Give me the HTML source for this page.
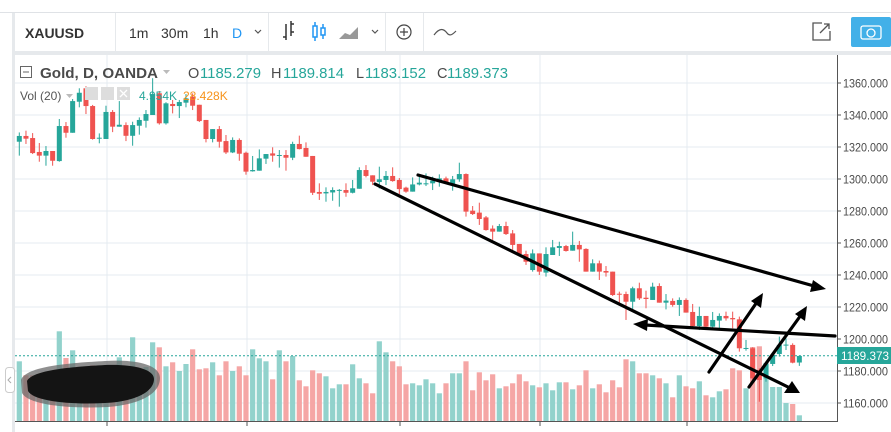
<!DOCTYPE html>
<html><head><meta charset="utf-8">
<style>
html,body{margin:0;padding:0;background:#fff;}
body{width:891px;height:432px;overflow:hidden;position:relative;font-family:"Liberation Sans",sans-serif;}
svg{position:absolute;left:0;top:0;}
text{font-family:"Liberation Sans",sans-serif;}
</style></head>
<body>
<svg id="chart" width="891" height="432" viewBox="0 0 891 432">
  <rect x="0" y="0" width="891" height="432" fill="#ffffff"/>
  <line x1="0" y1="12.5" x2="891" y2="12.5" stroke="#dfe2e6" stroke-width="1"/>
  <rect x="12" y="13" width="879" height="42" fill="#e6e9ec"/>
  <rect x="15" y="13" width="100" height="38" fill="#fff"/>
  <rect x="116" y="13" width="152" height="38" fill="#fff"/>
  <rect x="269" y="13" width="116" height="38" fill="#fff"/>
  <rect x="386" y="13" width="37" height="38" fill="#fff"/>
  <rect x="424" y="13" width="467" height="38" fill="#fff"/>
  <rect x="12" y="55" width="3" height="377" fill="#e6e9ec"/>
  <text x="25" y="38" font-size="14" font-weight="bold" fill="#333">XAUUSD</text>
  <text x="129" y="38" font-size="14" fill="#333">1m</text>
  <text x="161" y="38" font-size="14" fill="#333">30m</text>
  <text x="203" y="38" font-size="14" fill="#333">1h</text>
  <text x="232" y="38" font-size="14" fill="#2196f3">D</text>
  <path d="M255,30 l3,3 l3,-3" fill="none" stroke="#555" stroke-width="1.2"/>
  <g stroke="#333" stroke-width="1.5" fill="none">
    <path d="M286,24 v16 M283,37 h3 M291,21 v15 M291,24 h3 M291,32 h3"/>
  </g>
  <g stroke="#2196f3" stroke-width="1.5" fill="none">
    <rect x="313" y="26" width="4" height="11"/><path d="M315,22 v4 M315,37 v4"/>
    <rect x="321" y="28" width="4" height="7"/><path d="M323,24 v4 M323,35 v4"/>
  </g>
  <path d="M339,39 L345,33 L350,35 L358,27 L358,39 Z" fill="#999"/>
  <path d="M372,30 l3,3 l3,-3" fill="none" stroke="#555" stroke-width="1.2"/>
  <g><circle cx="404" cy="32" r="7" fill="none" stroke="#444" stroke-width="1.2"/><path d="M400,32 h8 M404,28 v8" stroke="#444" stroke-width="1.2"/></g>
  <path d="M434,35 C440,27 444,29 447,33 C450,37 453,34 456,31" fill="none" stroke="#555" stroke-width="1.2"/>
  <g><path d="M822,23 h-9 v17 h17 v-9" fill="none" stroke="#555" stroke-width="1.3"/><path d="M820,33 L829,24 M824,24 h5 v5" fill="none" stroke="#555" stroke-width="1.3"/></g>
  <g><rect x="851" y="17" width="40" height="30" rx="2" fill="#42b0e8"/><rect x="861" y="26" width="20" height="13" rx="2" fill="none" stroke="#fff" stroke-width="1.3"/><circle cx="871" cy="33" r="4" fill="none" stroke="#fff" stroke-width="1.3"/></g>
  <g id="grid"></g>
  <g id="vols"></g>
  <g id="candles"></g>
  <path d="M21,380 C26,366 70,363 105,361 C137,359 160,365 160,378 C160,396 135,405 108,407 C70,409 28,405 22,393 Z" fill="#6a6a6a" opacity="0.75"/>
  <path d="M27,381 C33,370 70,367 105,365 C133,364 154,369 154,379 C154,393 132,402 105,403 C70,405 33,401 28,391 Z" fill="#141414"/>
  <line x1="15" y1="355.7" x2="837" y2="355.7" stroke="#26a69a" stroke-width="1" stroke-dasharray="2,2"/>
  <g stroke="#000" stroke-width="3.2" fill="none" stroke-linecap="round">
    <line x1="375" y1="184" x2="790" y2="388"/>
    <line x1="418" y1="175" x2="814" y2="286"/>
    <line x1="645" y1="325" x2="835" y2="336"/>
    <line x1="709" y1="372" x2="757" y2="302"/>
    <line x1="749" y1="387" x2="801" y2="315"/>
  </g>
  <g fill="#000">
    <polygon points="800,393 784,393 792,381"/>
    <polygon points="826,289 810,292 813,280"/>
    <polygon points="633,324 648,319 647,331"/>
    <polygon points="763,293 761,308 751,301"/>
    <polygon points="807,306 805,321 795,314"/>
  </g>
  <line x1="837.5" y1="55" x2="837.5" y2="422" stroke="#555" stroke-width="1"/>
  <line x1="15" y1="421.5" x2="838" y2="421.5" stroke="#555" stroke-width="1"/>
  <g id="yaxis"></g>
  <g id="xticks"></g>
  <g><rect x="837" y="347" width="54" height="17" fill="#26a69a"/><text x="841" y="360" font-size="12" fill="#fff" textLength="48" lengthAdjust="spacingAndGlyphs">1189.373</text></g>
  <g>
    <rect x="20.5" y="66.5" width="11" height="11" fill="#fff" stroke="#666" stroke-width="1"/>
    <line x1="23" y1="72" x2="29" y2="72" stroke="#666"/>
    <text x="40" y="78" font-size="14.5" font-weight="bold" fill="#4a4a4a" textLength="118" lengthAdjust="spacingAndGlyphs">Gold, D, OANDA</text>
    <path d="M163,70 h7 l-3.5,4 z" fill="#bbb"/>
    <g font-size="14.5">
      <text x="188" y="78" fill="#4a4a4a">O</text><text x="200" y="78" fill="#26a69a" textLength="61" lengthAdjust="spacingAndGlyphs">1185.279</text>
      <text x="271" y="78" fill="#4a4a4a">H</text><text x="283" y="78" fill="#26a69a" textLength="61" lengthAdjust="spacingAndGlyphs">1189.814</text>
      <text x="356" y="78" fill="#4a4a4a">L</text><text x="365" y="78" fill="#26a69a" textLength="61" lengthAdjust="spacingAndGlyphs">1183.152</text>
      <text x="437" y="78" fill="#4a4a4a">C</text><text x="447" y="78" fill="#26a69a" textLength="61" lengthAdjust="spacingAndGlyphs">1189.373</text>
    </g>
    <text x="20" y="100" font-size="12" fill="#555">Vol (20)</text>
    <path d="M66,94 h7 l-3.5,4 z" fill="#bbb"/>
    <rect x="85" y="87" width="13" height="13" fill="#ddd"/>
    <rect x="101" y="87" width="13" height="13" fill="#ddd"/>
    <rect x="117" y="87" width="13" height="13" fill="#ddd"/>
    <path d="M120,90 l7,7 M127,90 l-7,7" stroke="#fff" stroke-width="1.3"/>
    <text x="139" y="100" font-size="12" fill="#26a69a">4.954K</text>
    <text x="183" y="100" font-size="12" fill="#f7931a">28.428K</text>
  </g>
  <g><rect x="5.5" y="367.5" width="9" height="25" rx="3" fill="#fff" stroke="#ccc"/><path d="M11,377 l-3,3 l3,3" fill="none" stroke="#aaa"/></g>
</svg>
<script>
const opens=[1323.3,1326.9,1325.6,1316.9,1314.6,1317.5,1311.2,1333.1,1328.9,1348.3,
1356.7,1345.6,1325.4,1325.0,1341.9,1332.7,1333.7,1327.0,1333.3,1336.4,
1340.0,1353.6,1334.8,1346.9,1345.6,1347.7,1351.4,1346.4,1336.9,1325.0,
1331.2,1323.7,1316.6,1324.4,1316.4,1304.8,1305.2,1312.7,1316.0,1314.8,
1315.0,1313.3,1321.9,1319.4,1314.4,1291.9,1291.0,1291.6,1293.0,1293.1,
1291.4,1293.9,1305.6,1302.3,1298.1,1299.4,1301.9,1299.4,1294.6,1292.1,
1296.6,1297.0,1297.3,1299.4,1300.4,1296.9,1299.8,1303.1,1280.2,1279.0,
1276.0,1269.0,1267.1,1270.6,1266.0,1259.4,1253.1,1243.1,1253.5,1241.5,
1252.5,1256.9,1258.1,1255.2,1258.8,1256.3,1242.1,1247.3,1242.5,1242.1,
1228.3,1228.1,1223.3,1231.7,1225.8,1224.4,1233.1,1222.7,1223.8,1221.3,
1224.4,1216.9,1208.1,1214.4,1207.7,1211.5,1214.4,1213.1,1212.3,1194.2,
1194.2,1180.6,1175.4,1184.4,1190.6,1196.2,1196.3,1185.3];
const highs=[1329.1,1330.2,1328.7,1322.5,1320.6,1317.5,1337.5,1335.6,1350.0,1356.7,
1358.0,1346.3,1328.5,1345.8,1343.1,1348.7,1335.4,1335.8,1338.5,1343.1,
1363.0,1355.0,1348.0,1349.4,1349.4,1353.1,1353.5,1346.4,1336.9,1331.2,
1333.1,1327.5,1326.0,1325.4,1317.1,1314.4,1318.5,1315.6,1319.8,1318.1,
1318.1,1323.3,1327.1,1322.9,1314.4,1297.3,1294.8,1294.8,1293.7,1297.3,
1299.4,1307.3,1308.7,1302.3,1307.7,1305.0,1307.3,1300.6,1295.2,1301.0,
1302.5,1303.5,1301.5,1302.9,1301.5,1301.9,1310.2,1303.5,1283.1,1285.2,
1276.9,1271.0,1271.9,1273.3,1268.1,1259.4,1255.2,1256.0,1253.5,1257.3,
1261.9,1260.8,1258.8,1267.1,1261.3,1256.7,1249.8,1249.0,1245.6,1242.1,
1229.6,1229.6,1232.7,1235.2,1230.2,1235.2,1234.8,1228.1,1225.4,1226.0,
1225.4,1221.9,1220.2,1214.4,1216.9,1216.0,1217.1,1217.1,1214.0,1199.4,
1194.8,1181.7,1185.8,1191.0,1201.5,1200.4,1197.3,1189.8];
const lows=[1314.6,1321.9,1315.6,1310.8,1308.3,1308.3,1310.8,1325.8,1328.9,1344.8,
1340.6,1324.6,1322.3,1325.0,1329.3,1332.7,1323.7,1320.8,1327.7,1332.1,
1340.0,1334.0,1334.0,1341.0,1338.1,1344.8,1343.1,1335.6,1322.9,1322.9,
1319.6,1315.6,1316.2,1311.4,1302.7,1304.6,1305.2,1309.4,1310.8,1307.1,
1305.2,1311.8,1318.5,1313.9,1290.0,1286.9,1285.8,1286.4,1282.7,1288.9,
1291.0,1293.9,1301.0,1296.2,1294.1,1296.2,1298.3,1290.6,1291.4,1292.1,
1296.0,1295.6,1293.1,1295.2,1296.9,1292.7,1298.3,1276.5,1277.5,1271.3,
1267.7,1261.9,1267.1,1265.0,1255.6,1252.5,1246.3,1242.1,1240.0,1239.0,
1252.5,1251.9,1254.6,1255.2,1248.3,1242.1,1242.1,1236.9,1239.0,1226.9,
1222.3,1211.9,1218.1,1224.4,1219.2,1224.4,1222.7,1218.5,1220.2,1214.4,
1216.5,1207.7,1205.6,1206.7,1206.7,1206.7,1211.5,1206.7,1192.1,1192.7,
1174.4,1160.8,1173.3,1183.1,1189.0,1193.1,1184.8,1183.2];
const closes=[1326.9,1325.2,1316.2,1314.6,1317.5,1311.4,1333.1,1328.9,1348.7,1353.9,
1345.6,1325.0,1325.8,1341.9,1332.7,1333.9,1327.0,1333.7,1336.9,1340.6,
1353.1,1334.8,1347.3,1345.6,1348.1,1350.4,1345.8,1336.2,1325.0,1331.2,
1323.3,1316.6,1324.4,1315.8,1304.6,1305.6,1312.9,1315.6,1314.6,1315.0,
1313.3,1321.9,1318.7,1313.9,1291.4,1290.8,1291.9,1293.1,1293.2,1291.4,
1294.2,1305.6,1301.9,1298.3,1299.8,1301.9,1298.7,1293.7,1292.1,1296.6,
1297.7,1297.3,1299.0,1300.4,1297.3,1299.8,1303.1,1279.6,1278.1,1275.0,
1268.1,1267.1,1270.6,1265.6,1258.8,1253.1,1248.3,1253.5,1242.1,1253.1,
1257.3,1258.1,1255.0,1258.8,1256.0,1242.1,1247.3,1242.1,1241.5,1227.5,
1228.1,1223.3,1231.7,1225.4,1225.0,1232.7,1222.7,1224.0,1221.3,1224.4,
1216.5,1208.1,1214.4,1207.7,1211.9,1214.4,1212.9,1212.3,1194.2,1194.4,
1175.4,1174.4,1184.8,1190.0,1196.3,1196.5,1185.2,1189.4];
const volumes=[59.7,45.7,45.7,45.7,44,45.7,89.7,63,70.7,44,
53,55.7,47,50.7,47,63.7,50.7,83.7,50,54,
78.7,73.7,54.7,58.7,50,57,71.7,51.7,52.7,58.7,
45.7,59.7,50,54.7,45.7,71.7,62.7,59.7,41.7,70.7,
59.7,65,40.7,34.7,50.7,47.7,44.7,32.7,36.7,36.7,
56.7,42.7,37.7,27.7,79.7,68.7,59.7,54.7,36.7,37.7,
35.7,41.7,37.7,27.7,37.7,47.7,47.7,59.7,30.7,48.7,
40.7,46.7,32.7,34.7,37.7,46.7,39.7,35.7,33.7,37.7,
30.7,38.7,38.7,31.7,35.7,50.7,32.7,36.7,28.7,40.7,
33.7,61.7,59.7,47.7,47.7,45.7,42.7,37.7,23.7,45.7,
34.7,32.7,39.7,25.7,23.7,29.7,31.7,52.7,50.7,32.7,
74,74.7,57,34,34,18,17,5.7];
const priceTicks=[1360,1340,1320,1300,1280,1260,1240,1220,1200,1180,1160];

const NS='http://www.w3.org/2000/svg';
const X0=19.3, STEP=6.667;
function xAt(i){return X0+i*STEP;}
function yAt(p){return 83+(1360-p)*1.6;}
function vyAt(v){return 421-v;}
function mk(tag,attrs,parent){const e=document.createElementNS(NS,tag);for(const k in attrs)e.setAttribute(k,attrs[k]);parent.appendChild(e);return e;}

const grid=document.getElementById('grid');
priceTicks.forEach(p=>{
  const l=mk('line',{x1:15,x2:837,y1:yAt(p),y2:yAt(p),stroke:'#e4ebf1','stroke-width':1},grid);
  
  
});
const gx=[107,247,400,540,687];
const xt=document.getElementById('xticks');
gx.forEach(x=>{
  const l=mk('line',{x1:x,x2:x,y1:55,y2:421,stroke:'#e4ebf1','stroke-width':1},grid);
  
  
  const t=mk('line',{x1:x,x2:x,y1:422,y2:426,stroke:'#555'},xt);
  
  
});
const ya=document.getElementById('yaxis');
priceTicks.forEach(p=>{
  const t=mk('line',{x1:837,x2:841,y1:yAt(p),y2:yAt(p),stroke:'#555'},ya);
  
  
  const tx=mk('text',{x:843,y:yAt(p)+4.5,'font-size':12,fill:'#4a4a4a',textLength:45,lengthAdjust:'spacingAndGlyphs'},ya);
  tx.textContent=p.toFixed(3);
  
  
});
const vg=document.getElementById('vols');
volumes.forEach((v,i)=>{
  const up=closes[i]>=opens[i];
  const r=mk('rect',{x:xAt(i)-2.6,y:vyAt(v),width:5.2,height:v,fill:up?'#92d2cc':'#f5a6a5'},vg);
  
  
});
const cg=document.getElementById('candles');
opens.forEach((o,i)=>{
  const c=closes[i],up=c>=o,col=up?'#26a69a':'#ef5350',x=xAt(i);
  const g=mk('g',{},cg);
  
  
  mk('line',{x1:x,x2:x,y1:yAt(highs[i]),y2:yAt(lows[i]),stroke:col,'stroke-width':1},g);
  const top=yAt(Math.max(o,c)),bot=yAt(Math.min(o,c));
  mk('rect',{x:x-2.5,y:top,width:5,height:Math.max(1,bot-top),fill:col},g);
});
</script>
</body></html>
